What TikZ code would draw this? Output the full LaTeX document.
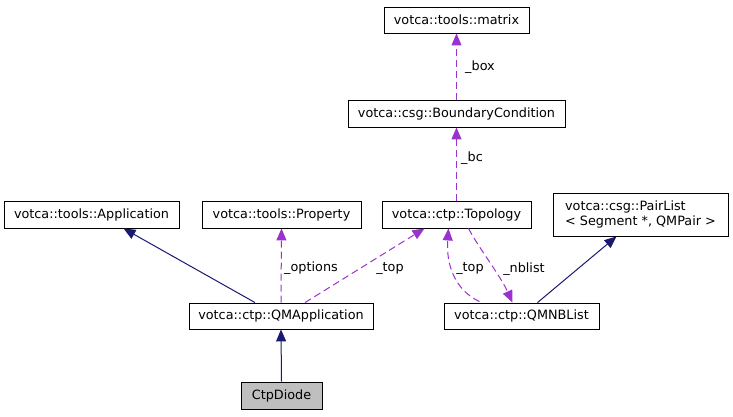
\documentclass[tikz,border=0pt]{standalone}
\usepackage{fontspec}
\setmainfont{DejaVu Sans}
\usetikzlibrary{arrows.meta,calc}
\definecolor{navy}{HTML}{191970}
\definecolor{orchid}{HTML}{9A32CD}
\tikzset{
  cls/.style={draw=black, line width=0.9pt, fill=white, inner sep=0pt, font=\fontsize{12.8}{15}\selectfont},
  inh/.style={draw=navy, line width=1pt, -{Triangle[length=12pt,width=10pt]}},
  use/.style={draw=orchid, line width=1pt, dash pattern=on 7pt off 4pt, -{Triangle[length=12pt,width=10pt]}},
  lbl/.style={font=\fontsize{12.8}{15}\selectfont, inner sep=0pt}
}
\begin{document}
\begin{tikzpicture}[x=1pt,y=-1pt]
\useasboundingbox (0,0) rectangle (733,416);
\node[cls, minimum width=145pt, minimum height=26pt] (mat) at (456.5,20) {votca::tools::matrix};
\node[cls, minimum width=217pt, minimum height=27pt] (bc) at (456.5,113.5) {votca::csg::BoundaryCondition};
\node[cls, minimum width=175pt, minimum height=27pt] (app) at (91.5,214.5) {votca::tools::Application};
\node[cls, minimum width=159pt, minimum height=27pt] (prop) at (281.5,214.5) {votca::tools::Property};
\node[cls, minimum width=149pt, minimum height=27pt] (top) at (456.5,214.5) {votca::ctp::Topology};
\node[cls, minimum width=175pt, minimum height=43pt, align=left] (pl) at (640.5,214.5) {votca::csg::PairList\\< Segment *, QMPair >};
\node[cls, minimum width=184pt, minimum height=26pt] (qma) at (281,316) {votca::ctp::QMApplication};
\node[cls, minimum width=155pt, minimum height=26pt] (nb) at (521.5,316) {votca::ctp::QMNBList};
\node[cls, fill={rgb,255:red,191;green,191;blue,191}, minimum width=81pt, minimum height=27pt] (cd) at (281.5,395.5) {CtpDiode};

% matrix <- bc
\draw[use] (bc.north) -- (mat.south);
\node[lbl] (lbox) at (480,67) {\_box};
% bc <- topology
\draw[use] (top.north) -- (bc.south);
\node[lbl] (lbc) at (472,158) {\_bc};
% inheritance
\draw[inh] ($(qma.north)+(-26,0)$) -- ($(app.south)+(32,0)$);
\draw[inh] (cd.north) -- (qma.south);
\draw[inh] ($(nb.north)+(16,0)$) -- ($(pl.south)+(-24,0)$);
% property <- qma
\draw[use] (qma.north) -- (prop.south);
\node[lbl] (lopt) at (311,268) {\_options};
% topology <- qma
\draw[use] ($(qma.north)+(24,0)$) -- ($(top.south)+(-32,0)$);
\node[lbl] (ltop1) at (390,269) {\_top};
% topology <- qmnblist (curved)
\draw[use] ($(nb.north)+(-42,-1)$) .. controls (455,290) and (446,265) .. ($(top.south)+(-8,0)$);
\node[lbl] (ltop2) at (470,269) {\_top};
% topology -> qmnblist
\draw[use] ($(top.south)+(12,0)$) .. controls (480,250) and (500,275) .. ($(nb.north)+(-9,0)$);
\node[lbl] (lnb) at (524,269) {\_nblist};
\end{tikzpicture}
\end{document}
